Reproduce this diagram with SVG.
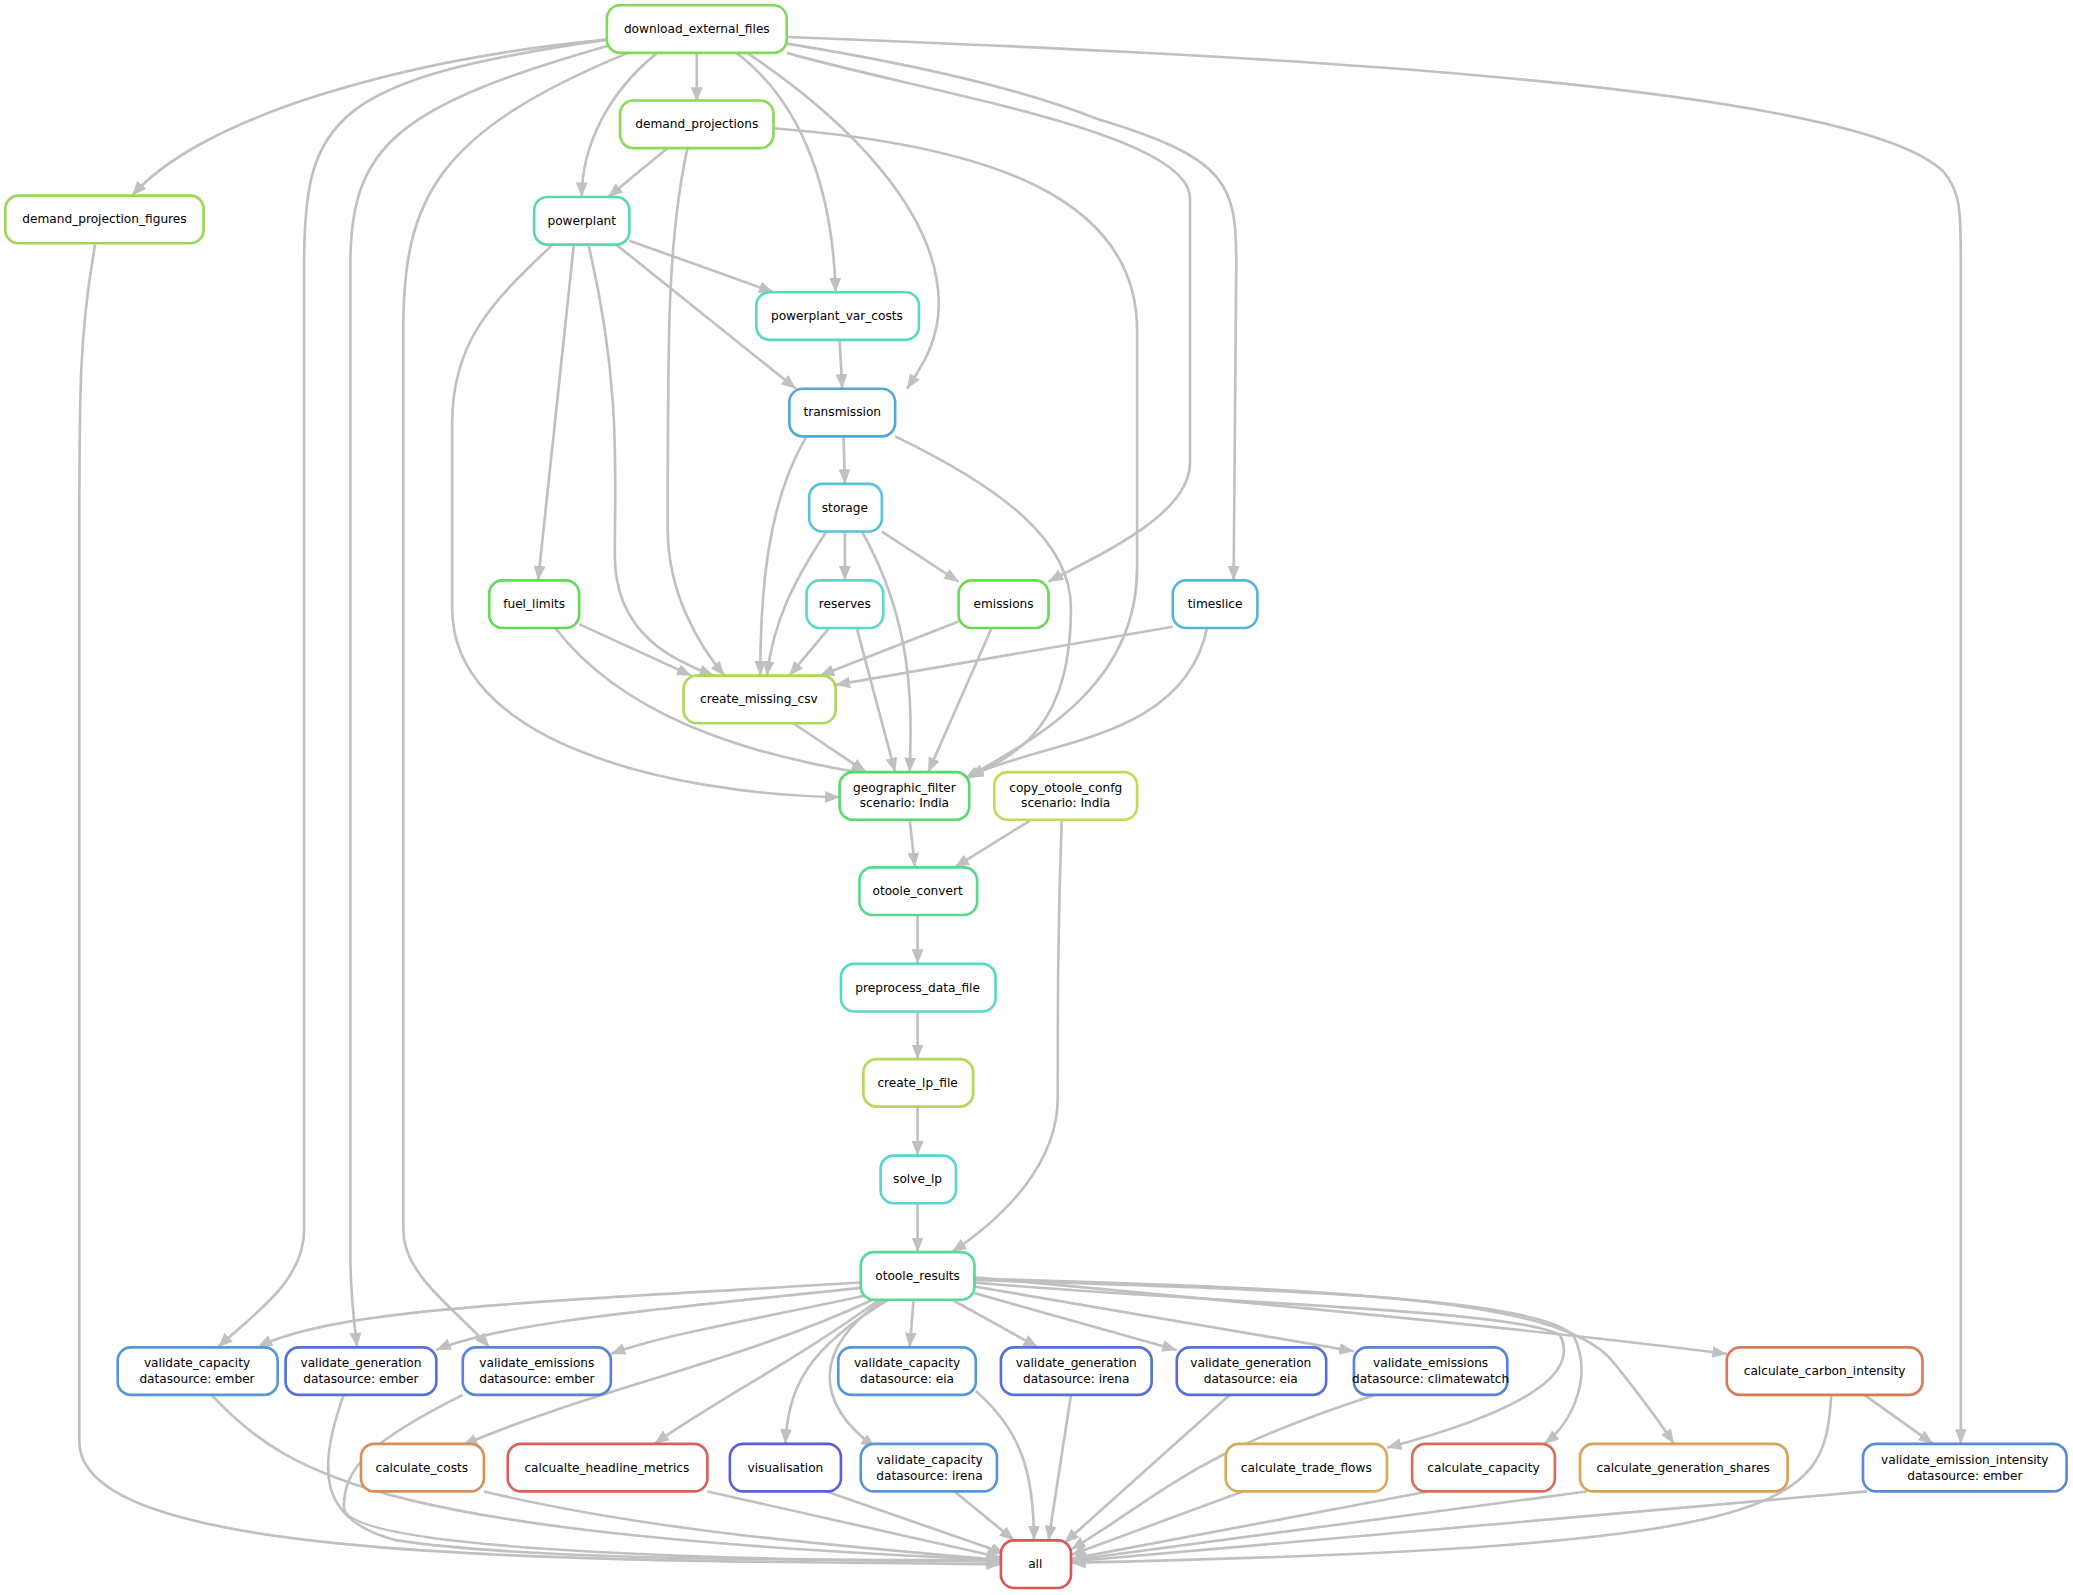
<svg xmlns="http://www.w3.org/2000/svg" width="2073" height="1595" viewBox="0 0 2073 1595">
<style>
.n rect{fill:#fff;stroke-width:2;rx:10}
.n text{font-family:"DejaVu Sans",sans-serif;font-size:9.2px;fill:#000;text-anchor:middle}
#edges path{fill:none;stroke:#c0c0c0;stroke-width:2;marker-end:url(#a)}
</style>
<defs><marker id="a" markerUnits="userSpaceOnUse" markerWidth="12" markerHeight="10" refX="11" refY="4.5" orient="auto"><path d="M0,0 L11,4.5 L0,9 z" fill="#c0c0c0"/></marker></defs>
<rect width="2073" height="1595" fill="#fff"/>
<g transform="scale(1.3222)">
<g id="edges">
<path d="M459,30 C300,45 150,90 100,148"/>
<path d="M459,30 C250,60 230,90 230,200 L230,930 C230,970 190,995 165,1019"/>
<path d="M462,34 C300,80 265,110 265,200 L265,950 C265,980 268,1000 270,1019"/>
<path d="M475,40 C330,100 305,150 305,250 L305,930 C305,965 345,990 370,1019"/>
<path d="M497,40 C460,70 440,110 440,149"/>
<path d="M527,40 L527,77"/>
<path d="M557,40 C610,80 630,150 632,221"/>
<path d="M565,40 C640,90 710,160 710,230 C710,260 695,280 686,294"/>
<path d="M595,40 C700,70 900,100 900,150 L900,350 C900,390 830,420 793,440"/>
<path d="M595,33 C700,50 780,70 830,90 C930,120 935,140 935,200 L933,439"/>
<path d="M595,28 C900,40 1400,60 1470,130 C1483,145 1483,160 1483,200 L1483,1092"/>
<path d="M505,112 L460,149"/>
<path d="M520,112 C505,180 505,250 505,400 C505,450 530,490 548,511"/>
<path d="M585,97 C750,110 860,150 860,250 L860,430 C860,520 780,560 730,589"/>
<path d="M476,182 L585,221"/>
<path d="M466,185 L602,294"/>
<path d="M434,185 L407,439"/>
<path d="M445,185 C470,290 465,360 465,420 C465,480 510,500 540,511"/>
<path d="M418,185 C370,230 342,260 342,320 L342,460 C342,560 500,600 635,603"/>
<path d="M635,257 L637,294"/>
<path d="M638,330 L639,366"/>
<path d="M610,330 C580,380 575,450 575,511"/>
<path d="M677,330 C760,370 810,410 810,460 C810,550 770,570 733,588"/>
<path d="M639,402 L639,439"/>
<path d="M667,402 L725,440"/>
<path d="M625,402 C600,440 585,470 580,511"/>
<path d="M652,402 C690,470 690,530 688,584"/>
<path d="M438,472 L523,511"/>
<path d="M420,475 C470,540 560,570 655,585"/>
<path d="M627,475 L597,511"/>
<path d="M648,475 L677,584"/>
<path d="M725,470 L620,511"/>
<path d="M750,475 L702,584"/>
<path d="M887,474 L632,518"/>
<path d="M913,475 C895,560 790,560 733,587"/>
<path d="M600,547 L655,584"/>
<path d="M688,620 L692,656"/>
<path d="M780,620 L722,656"/>
<path d="M803,620 C800,700 800,760 800,830 C800,880 760,920 720,947"/>
<path d="M694,692 L694,729"/>
<path d="M694,765 L694,801"/>
<path d="M694,837 L694,874"/>
<path d="M694,910 L694,947"/>
<path d="M651,970 C400,985 250,990 195,1019"/>
<path d="M651,974 C500,990 380,1000 330,1021"/>
<path d="M654,980 C560,1000 500,1010 462,1024"/>
<path d="M660,983 C560,1030 450,1050 350,1093"/>
<path d="M665,983 C600,1030 540,1060 495,1092"/>
<path d="M672,983 C610,1020 596,1050 594,1092"/>
<path d="M668,983 C615,1020 615,1060 662,1095"/>
<path d="M691,983 L688,1019"/>
<path d="M720,983 L785,1019"/>
<path d="M737,978 L890,1021"/>
<path d="M737,973 L1024,1022"/>
<path d="M737,970 C900,985 1150,990 1180,1010 C1190,1030 1180,1060 1049,1095"/>
<path d="M737,968 C950,975 1160,980 1190,1010 C1205,1040 1190,1075 1168,1092"/>
<path d="M737,967 C1000,975 1180,980 1220,1030 C1240,1055 1255,1075 1266,1092"/>
<path d="M737,966 C1000,990 1200,1010 1306,1024"/>
<path d="M160,1055 C220,1120 300,1160 757,1180"/>
<path d="M260,1055 C240,1110 240,1150 300,1165 C400,1180 600,1180 757,1180"/>
<path d="M350,1055 C280,1090 260,1110 260,1140 C260,1170 500,1180 757,1181"/>
<path d="M72,185 C60,250 60,300 60,400 L60,1090 C60,1180 400,1180 757,1183"/>
<path d="M366,1128 C500,1160 650,1170 757,1180"/>
<path d="M535,1128 L757,1178"/>
<path d="M625,1128 L760,1175"/>
<path d="M722,1128 L767,1165"/>
<path d="M738,1052 C770,1080 782,1110 782,1165"/>
<path d="M810,1055 L793,1165"/>
<path d="M930,1055 L805,1167"/>
<path d="M1040,1055 C900,1100 880,1130 810,1172"/>
<path d="M940,1128 L810,1176"/>
<path d="M1080,1128 L810,1179"/>
<path d="M1200,1128 L810,1180"/>
<path d="M1385,1055 C1380,1140 1360,1170 810,1182"/>
<path d="M1410,1055 L1462,1092"/>
<path d="M1412,1128 L810,1181"/>
</g>
<g id="download_external_files" class="n"><rect x="459" y="4" width="136" height="36" stroke="#80d957"/><text x="527" y="25">download_external_files</text></g>
<g id="demand_projections" class="n"><rect x="469" y="76" width="116" height="36" stroke="#8cd957"/><text x="527" y="97">demand_projections</text></g>
<g id="demand_projection_figures" class="n"><rect x="4" y="148" width="150" height="36" stroke="#97d957"/><text x="79" y="169">demand_projection_figures</text></g>
<g id="powerplant" class="n"><rect x="404" y="149" width="72" height="36" stroke="#57d9a8"/><text x="440" y="170">powerplant</text></g>
<g id="powerplant_var_costs" class="n"><rect x="572" y="221" width="123" height="36" stroke="#57d9c0"/><text x="633" y="242">powerplant_var_costs</text></g>
<g id="transmission" class="n"><rect x="597" y="294" width="80" height="36" stroke="#57a6d9"/><text x="637" y="315">transmission</text></g>
<g id="storage" class="n"><rect x="612" y="366" width="55" height="36" stroke="#57c2d9"/><text x="639" y="387">storage</text></g>
<g id="fuel_limits" class="n"><rect x="370" y="439" width="68" height="36" stroke="#62d957"/><text x="404" y="460">fuel_limits</text></g>
<g id="reserves" class="n"><rect x="610" y="439" width="58" height="36" stroke="#57d9d1"/><text x="639" y="460">reserves</text></g>
<g id="emissions" class="n"><rect x="725" y="439" width="68" height="36" stroke="#6bd957"/><text x="759" y="460">emissions</text></g>
<g id="timeslice" class="n"><rect x="887" y="439" width="64" height="36" stroke="#57b5d9"/><text x="919" y="460">timeslice</text></g>
<g id="create_missing_csv" class="n"><rect x="517" y="511" width="115" height="36" stroke="#a9d957"/><text x="574" y="532">create_missing_csv</text></g>
<g id="geographic_filter" class="n"><rect x="635" y="584" width="98" height="36" stroke="#57d96b"/><text x="684" y="599">geographic_filter</text><text x="684" y="610">scenario: India</text></g>
<g id="copy_otoole_confg" class="n"><rect x="752" y="584" width="108" height="36" stroke="#c5d957"/><text x="806" y="599">copy_otoole_confg</text><text x="806" y="610">scenario: India</text></g>
<g id="otoole_convert" class="n"><rect x="650" y="656" width="89" height="36" stroke="#57d98d"/><text x="694" y="677">otoole_convert</text></g>
<g id="preprocess_data_file" class="n"><rect x="636" y="729" width="117" height="36" stroke="#57d9c4"/><text x="694" y="750">preprocess_data_file</text></g>
<g id="create_lp_file" class="n"><rect x="653" y="801" width="83" height="36" stroke="#b4d957"/><text x="694" y="822">create_lp_file</text></g>
<g id="solve_lp" class="n"><rect x="666" y="874" width="57" height="36" stroke="#57d4d9"/><text x="694" y="895">solve_lp</text></g>
<g id="otoole_results" class="n"><rect x="651" y="947" width="86" height="36" stroke="#57d99a"/><text x="694" y="968">otoole_results</text></g>
<g id="validate_capacity_ember" class="n"><rect x="89" y="1019" width="121" height="36" stroke="#5797d9"/><text x="149" y="1034">validate_capacity</text><text x="149" y="1046">datasource: ember</text></g>
<g id="validate_generation_ember" class="n"><rect x="216" y="1019" width="114" height="36" stroke="#5770d9"/><text x="273" y="1034">validate_generation</text><text x="273" y="1046">datasource: ember</text></g>
<g id="validate_emissions_ember" class="n"><rect x="350" y="1019" width="112" height="36" stroke="#5784d9"/><text x="406" y="1034">validate_emissions</text><text x="406" y="1046">datasource: ember</text></g>
<g id="validate_capacity_eia" class="n"><rect x="634" y="1019" width="104" height="36" stroke="#5797d9"/><text x="686" y="1034">validate_capacity</text><text x="686" y="1046">datasource: eia</text></g>
<g id="validate_generation_irena" class="n"><rect x="757" y="1019" width="114" height="36" stroke="#5770d9"/><text x="814" y="1034">validate_generation</text><text x="814" y="1046">datasource: irena</text></g>
<g id="validate_generation_eia" class="n"><rect x="890" y="1019" width="113" height="36" stroke="#5770d9"/><text x="946" y="1034">validate_generation</text><text x="946" y="1046">datasource: eia</text></g>
<g id="validate_emissions_climatewatch" class="n"><rect x="1024" y="1019" width="116" height="36" stroke="#5784d9"/><text x="1082" y="1034">validate_emissions</text><text x="1082" y="1046">datasource: climatewatch</text></g>
<g id="calculate_carbon_intensity" class="n"><rect x="1306" y="1019" width="148" height="36" stroke="#d97957"/><text x="1380" y="1040">calculate_carbon_intensity</text></g>
<g id="calculate_costs" class="n"><rect x="273" y="1092" width="93" height="36" stroke="#d98d57"/><text x="319" y="1113">calculate_costs</text></g>
<g id="calcualte_headline_metrics" class="n"><rect x="384" y="1092" width="151" height="36" stroke="#d95f57"/><text x="459" y="1113">calcualte_headline_metrics</text></g>
<g id="visualisation" class="n"><rect x="552" y="1092" width="84" height="36" stroke="#5760d9"/><text x="594" y="1113">visualisation</text></g>
<g id="validate_capacity_irena" class="n"><rect x="651" y="1092" width="103" height="36" stroke="#5797d9"/><text x="703" y="1107">validate_capacity</text><text x="703" y="1119">datasource: irena</text></g>
<g id="calculate_trade_flows" class="n"><rect x="927" y="1092" width="122" height="36" stroke="#d9aa57"/><text x="988" y="1113">calculate_trade_flows</text></g>
<g id="calculate_capacity" class="n"><rect x="1068" y="1092" width="108" height="36" stroke="#d96c57"/><text x="1122" y="1113">calculate_capacity</text></g>
<g id="calculate_generation_shares" class="n"><rect x="1195" y="1092" width="157" height="36" stroke="#d9a057"/><text x="1273" y="1113">calculate_generation_shares</text></g>
<g id="validate_emission_intensity" class="n"><rect x="1409" y="1092" width="154" height="36" stroke="#578ad9"/><text x="1486" y="1107">validate_emission_intensity</text><text x="1486" y="1119">datasource: ember</text></g>
<g id="all" class="n"><rect x="757" y="1165" width="53" height="36" stroke="#d95757"/><text x="783" y="1186">all</text></g>
</g>
</svg>
